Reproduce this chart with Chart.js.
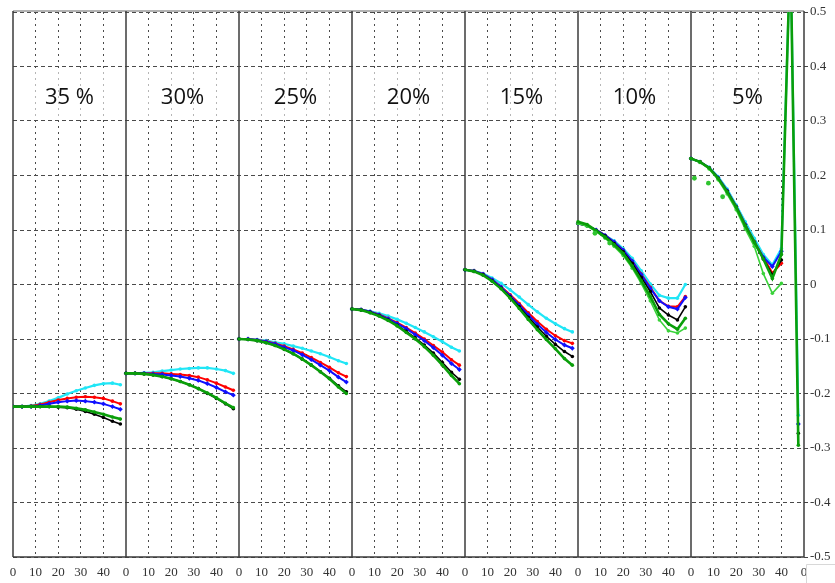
<!DOCTYPE html>
<html>
<head>
<meta charset="utf-8">
<script src="https://cdn.jsdelivr.net/npm/chart.js@4/dist/chart.umd.min.js"></script>
<style>
  html, body { margin: 0; padding: 0; background: #fff; }
  #wrap { width: 835px; height: 583px; }
</style>
</head>
<body>
<div id="wrap"><canvas id="myChart" width="835" height="583"></canvas></div>
<script>
// one panel per percentage, each panel is 50 units wide on the shared x axis
const panelLabels = ['35 %', '30%', '25%', '20%', '15%', '10%', '5%']
const panelWidth = 50
const xs = [0, 4, 8, 12, 16, 20, 24, 28, 32, 36, 40, 44, 47.5]
const xTicks = [0, 10, 20, 30, 40]
const yTicks = [-0.5, -0.4, -0.3, -0.2, -0.1, 0, 0.1, 0.2, 0.3, 0.4, 0.5]

const cyanVals = [
  [-0.224, -0.224, -0.222, -0.219, -0.214, -0.208, -0.201, -0.195, -0.19, -0.185, -0.182, -0.181, -0.184],
  [-0.163, -0.163, -0.162, -0.161, -0.159, -0.157, -0.155, -0.154, -0.153, -0.153, -0.155, -0.158, -0.163],
  [-0.1, -0.1, -0.101, -0.103, -0.106, -0.109, -0.113, -0.117, -0.122, -0.127, -0.133, -0.14, -0.145],
  [-0.045, -0.046, -0.049, -0.053, -0.058, -0.064, -0.071, -0.079, -0.087, -0.096, -0.105, -0.115, -0.122],
  [0.027, 0.025, 0.02, 0.012, 0.002, -0.01, -0.023, -0.037, -0.05, -0.062, -0.072, -0.081, -0.087],
  [0.112, 0.108, 0.1, 0.09, 0.08, 0.066, 0.048, 0.025, 0.001, -0.02, -0.025, -0.025, 0.0],
  [0.231, 0.225, 0.215, 0.198, 0.175, 0.146, 0.115, 0.085, 0.055, 0.036, 0.066, 0.62, -0.24]
]
const redVals = [
  [-0.224, -0.224, -0.223, -0.22, -0.216, -0.212, -0.209, -0.207, -0.206, -0.207, -0.209, -0.214, -0.219],
  [-0.163, -0.163, -0.163, -0.163, -0.163, -0.164, -0.165, -0.167, -0.17, -0.175, -0.181, -0.188, -0.194],
  [-0.1, -0.1, -0.102, -0.104, -0.108, -0.113, -0.119, -0.126, -0.134, -0.143, -0.152, -0.162, -0.169],
  [-0.045, -0.046, -0.05, -0.055, -0.062, -0.07, -0.079, -0.089, -0.1, -0.112, -0.124, -0.138, -0.148],
  [0.027, 0.025, 0.019, 0.009, -0.004, -0.019, -0.035, -0.052, -0.068, -0.082, -0.094, -0.103, -0.108],
  [0.112, 0.108, 0.1, 0.09, 0.078, 0.063, 0.043, 0.019, -0.005, -0.03, -0.04, -0.041, -0.022],
  [0.231, 0.225, 0.214, 0.196, 0.172, 0.143, 0.11, 0.079, 0.05, 0.021, 0.039, null, null]
]
const blueVals = [
  [-0.224, -0.224, -0.224, -0.222, -0.219, -0.216, -0.214, -0.213, -0.214, -0.216, -0.219, -0.224, -0.229],
  [-0.163, -0.163, -0.163, -0.164, -0.165, -0.167, -0.169, -0.172, -0.176, -0.182, -0.189, -0.197, -0.203],
  [-0.1, -0.1, -0.102, -0.105, -0.109, -0.115, -0.121, -0.129, -0.138, -0.148, -0.158, -0.17, -0.179],
  [-0.045, -0.046, -0.05, -0.056, -0.063, -0.072, -0.081, -0.092, -0.103, -0.116, -0.13, -0.145, -0.156],
  [0.027, 0.025, 0.019, 0.009, -0.005, -0.021, -0.038, -0.056, -0.073, -0.088, -0.101, -0.111, -0.117],
  [0.112, 0.108, 0.1, 0.09, 0.078, 0.063, 0.043, 0.018, -0.007, -0.03, -0.041, -0.045, -0.024],
  [0.231, 0.225, 0.214, 0.196, 0.172, 0.143, 0.11, 0.078, 0.05, 0.033, 0.061, null, -0.256]
]
const blackVals = [
  [-0.224, -0.224, -0.224, -0.224, -0.224, -0.225, -0.226, -0.229, -0.233, -0.238, -0.244, -0.251, -0.256],
  [-0.163, -0.163, -0.164, -0.166, -0.169, -0.173, -0.178, -0.184, -0.191, -0.2, -0.209, -0.219, -0.228],
  [-0.1, -0.101, -0.103, -0.107, -0.112, -0.119, -0.127, -0.137, -0.148, -0.16, -0.172, -0.186, -0.197],
  [-0.045, -0.047, -0.051, -0.057, -0.065, -0.075, -0.086, -0.098, -0.111, -0.126, -0.143, -0.161, -0.174],
  [0.027, 0.024, 0.018, 0.007, -0.007, -0.023, -0.041, -0.06, -0.078, -0.095, -0.11, -0.123, -0.132],
  [0.112, 0.108, 0.099, 0.089, 0.075, 0.06, 0.039, 0.013, -0.013, -0.043, -0.056, -0.065, -0.041],
  [0.231, 0.225, 0.214, 0.195, 0.171, 0.142, 0.108, 0.077, 0.047, 0.018, 0.045, null, -0.273]
]
const greenVals = [
  [-0.224, -0.224, -0.224, -0.224, -0.224, -0.224, -0.225, -0.227, -0.23, -0.234, -0.238, -0.243, -0.247],
  [-0.163, -0.163, -0.164, -0.166, -0.169, -0.173, -0.178, -0.184, -0.191, -0.199, -0.208, -0.218, -0.226],
  [-0.1, -0.101, -0.103, -0.107, -0.112, -0.119, -0.127, -0.137, -0.148, -0.16, -0.173, -0.188, -0.2],
  [-0.045, -0.047, -0.052, -0.058, -0.066, -0.076, -0.088, -0.1, -0.114, -0.13, -0.148, -0.167, -0.182],
  [0.027, 0.024, 0.017, 0.006, -0.008, -0.025, -0.044, -0.064, -0.083, -0.101, -0.118, -0.136, -0.148],
  [0.115, 0.11, 0.099, 0.087, 0.073, 0.057, 0.034, 0.007, -0.022, -0.055, -0.072, -0.082, -0.062],
  [0.231, 0.225, 0.214, 0.195, 0.17, 0.142, 0.108, 0.078, 0.047, 0.011, 0.055, 0.62, -0.295]
]
// thin light green curve, only separate from the main green in the last two panels
const limeVals = [
  null, null, null, null, null,
  [0.112, 0.107, 0.097, 0.085, 0.07, 0.053, 0.03, 0.002, -0.03, -0.065, -0.085, -0.089, -0.08],
  [0.231, 0.224, 0.212, 0.192, 0.166, 0.137, 0.102, 0.07, 0.02, -0.016, 0.002, null, null]
]
// loose green dots (panel index, x inside panel, value)
const dotPanel = [5, 5, 6, 6, 6]
const dotX = [7.5, 14, 1.5, 7.7, 14]
const dotY = [0.094, 0.076, 0.195, 0.186, 0.161]

function series(vals) {
  const pts = []
  vals.forEach((panel, p) => {
    if (!panel) return
    panel.forEach((v, i) => pts.push({ x: p * panelWidth + xs[i], y: v }))
    pts.push({ x: p * panelWidth + 49, y: null })
  })
  return pts
}

function lineSet(vals, color, width, order, style) {
  return {
    data: series(vals),
    borderColor: color,
    backgroundColor: color,
    borderWidth: width,
    pointRadius: style === 'rectRot' ? 2.4 : 1.8,
    pointStyle: style || 'circle',
    pointBorderWidth: 0,
    spanGaps: false,
    tension: 0,
    order: order
  }
}

const datasets = [
  lineSet(greenVals, '#0a9e0a', 2.6, 1),
  lineSet(limeVals, '#3ad23a', 1.6, 2),
  lineSet(blackVals, '#000000', 1.6, 3),
  lineSet(blueVals, '#1010ff', 2, 4, 'rectRot'),
  lineSet(redVals, '#ff0000', 2, 5),
  lineSet(cyanVals, '#20e6f6', 2.2, 6),
  {
    type: 'scatter',
    data: dotX.map((x, i) => ({ x: dotPanel[i] * panelWidth + x, y: dotY[i] })),
    backgroundColor: '#2fc42f',
    borderWidth: 0,
    pointRadius: 2.4,
    showLine: false,
    order: 0
  }
]

// frame, panel separators and the percentage captions
const panelDecor = {
  id: 'panelDecor',
  beforeDatasetsDraw(chart) {
    const { ctx, chartArea, scales: { x, y } } = chart
    ctx.save()
    const yTop = y.getPixelForValue(0.4)
    const yBot = y.getPixelForValue(0.3)
    ctx.font = '22px "Open Sans"'
    ctx.textAlign = 'center'
    ctx.textBaseline = 'middle'
    panelLabels.forEach((lab, p) => {
      const l = x.getPixelForValue(p * panelWidth)
      const r = x.getPixelForValue((p + 1) * panelWidth)
      ctx.fillStyle = 'rgba(255,255,255,0.6)'
      ctx.fillRect(l + 2, yTop + 2, r - l - 4, yBot - yTop - 4)
      ctx.fillStyle = '#111'
      ctx.fillText(lab, (l + r) / 2, y.getPixelForValue(0.342))
    })
    ctx.strokeStyle = '#9a9a9a'
    ctx.lineWidth = 1.5
    ctx.beginPath()
    ctx.moveTo(chartArea.left, chartArea.top - 1)
    ctx.lineTo(chartArea.right, chartArea.top - 1)
    ctx.stroke()
    ctx.strokeStyle = '#3c3c3c'
    ctx.lineWidth = 1.5
    ctx.beginPath()
    for (let p = 0; p <= panelLabels.length; p++) {
      const px = x.getPixelForValue(p * panelWidth)
      ctx.moveTo(px, chartArea.top - 1)
      ctx.lineTo(px, chartArea.bottom)
    }
    ctx.moveTo(chartArea.left, chartArea.bottom)
    ctx.lineTo(chartArea.right, chartArea.bottom)
    ctx.stroke()
    ctx.restore()
  },
  afterDraw(chart) {
    // small white box sitting over the bottom right corner
    const { ctx, chartArea } = chart
    ctx.save()
    ctx.fillStyle = '#fff'
    ctx.fillRect(chartArea.right + 2, chartArea.bottom + 7, 40, 30)
    ctx.strokeStyle = '#d8d8d8'
    ctx.lineWidth = 1
    ctx.beginPath()
    ctx.moveTo(chartArea.right + 2.5, chartArea.bottom + 30)
    ctx.lineTo(chartArea.right + 2.5, chartArea.bottom + 7.5)
    ctx.lineTo(chartArea.right + 40, chartArea.bottom + 7.5)
    ctx.stroke()
    ctx.restore()
  }
}

const tickFont = { family: '"Liberation Serif", serif', size: 13 }

new Chart(document.getElementById('myChart'), {
  type: 'line',
  data: { datasets: datasets },
  plugins: [panelDecor],
  options: {
    responsive: false,
    animation: false,
    layout: { padding: { left: 13, top: 12, right: 0, bottom: 0 } },
    plugins: { legend: { display: false }, tooltip: { enabled: false } },
    scales: {
      x: {
        type: 'linear',
        min: 0,
        max: panelWidth * panelLabels.length,
        afterBuildTicks: (scale) => {
          const t = []
          for (let p = 0; p <= panelLabels.length; p++) {
            xTicks.forEach((v) => {
              const val = p * panelWidth + v
              if (val <= scale.max) t.push({ value: val })
            })
          }
          scale.ticks = t
        },
        afterFit: (scale) => { scale.height = 26 },
        ticks: {
          autoSkip: false,
          maxRotation: 0,
          padding: 8,
          color: '#333',
          font: tickFont,
          callback: (v) => String(Math.round(v) % panelWidth)
        },
        grid: {
          drawTicks: false,
          lineWidth: 1,
          color: (c) => (c.tick && c.tick.value % panelWidth === 0) ? 'rgba(0,0,0,0)' : '#4a4a4a'
        },
        border: { display: false, dash: [2, 4] }
      },
      y: {
        type: 'linear',
        position: 'right',
        min: -0.5,
        max: 0.5,
        afterBuildTicks: (scale) => { scale.ticks = yTicks.map((v) => ({ value: v })) },
        afterFit: (scale) => { scale.width = 31 },
        ticks: {
          padding: 2,
          color: '#333',
          font: tickFont,
          callback: (v) => {
            const r = Math.round(v * 10) / 10
            return r === 0 ? '0' : r.toFixed(1)
          }
        },
        grid: {
          lineWidth: 1,
          color: '#4a4a4a',
          tickLength: 4,
          tickColor: '#444',
          tickBorderDash: []
        },
        border: { display: false, dash: [4, 3] }
      }
    }
  }
})
</script>
</body>
</html>
